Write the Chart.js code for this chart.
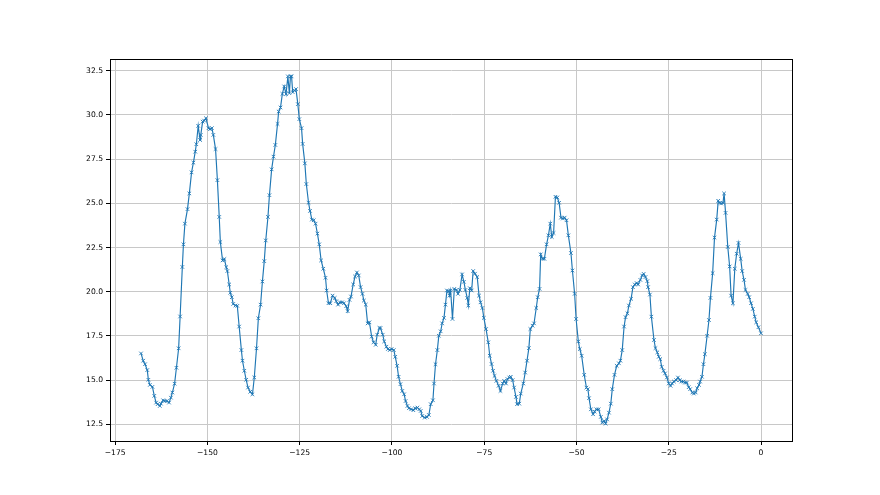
<!DOCTYPE html>
<html>
<head>
<meta charset="utf-8">
<script src="https://cdn.jsdelivr.net/npm/chart.js@4/dist/chart.umd.min.js"></script>
<style>
html,body{margin:0;padding:0;background:#fff;}
#wrap{width:880px;height:495px;position:relative;}
</style>
</head>
<body>
<div id="wrap"><canvas id="c" width="880" height="495"></canvas></div>
<script>
const xValues = [
-168.0,-167.4,-166.9,-166.3,-166.0,-165.6,-164.9,-164.4,-163.9,-163.5,-162.9,-162.6,-162.0,-161.6,-161.0,-160.4,-159.9,-159.5,-158.9,-158.4,
-157.8,-157.4,-156.8,-156.5,-156.1,-155.4,-154.9,-154.3,-153.8,-153.3,-153.0,-152.5,-152.0,-151.8,-151.3,-150.9,-150.4,-149.7,-149.3,-148.8,
-148.4,-147.8,-147.3,-146.8,-146.5,-145.9,-145.4,-144.9,-144.6,-144.1,-143.8,-143.4,-143.0,-142.4,-141.9,-141.4,-140.8,-140.5,-140.0,-139.5,
-139.0,-138.4,-137.8,-137.3,-136.7,-136.2,-135.6,-135.1,-134.6,-134.2,-133.6,-133.2,-132.6,-132.1,-131.6,-131.0,-130.7,-130.2,-129.7,-129.2,
-128.7,-128.2,-127.8,-127.5,-127.2,-126.9,-126.4,-126.0,-125.5,-125.1,-124.5,-124.2,-123.6,-123.2,-122.6,-122.2,-121.7,-121.2,-120.7,-120.2,
-119.7,-119.2,-118.6,-118.0,-117.7,-117.2,-116.7,-116.1,-115.5,-115.1,-114.6,-114.1,-113.5,-113.0,-112.4,-112.0,-111.5,-111.1,-110.5,-110.0,
-109.5,-109.0,-108.5,-108.0,-107.6,-107.1,-106.6,-106.1,-105.5,-105.0,-104.4,-104.0,-103.4,-103.1,-102.5,-102.1,-101.5,-101.1,-100.6,-100.1,
-99.5,-99.1,-98.6,-98.2,-97.7,-97.2,-96.7,-96.3,-95.8,-95.4,-94.8,-94.2,-93.7,-93.1,-92.6,-92.2,-91.8,-91.1,-90.5,-90.0,
-89.5,-88.9,-88.6,-88.2,-87.7,-87.3,-86.8,-86.4,-85.9,-85.5,-85.1,-84.6,-84.4,-84.1,-83.6,-83.1,-82.5,-82.1,-81.6,-81.0,
-80.5,-80.1,-79.6,-79.3,-78.9,-78.4,-78.0,-77.5,-76.9,-76.4,-76.0,-75.5,-75.1,-74.5,-73.9,-73.5,-73.0,-72.6,-72.2,-71.7,
-71.1,-70.6,-70.0,-69.6,-69.1,-68.7,-68.2,-67.8,-67.3,-66.9,-66.4,-66.1,-65.5,-65.1,-64.4,-63.9,-63.4,-62.9,-62.5,-61.9,
-61.5,-60.9,-60.5,-60.0,-59.7,-59.2,-58.7,-58.1,-57.6,-57.1,-56.7,-56.2,-55.7,-55.2,-54.7,-54.2,-53.7,-53.2,-52.7,-52.2,
-51.5,-51.1,-50.5,-50.1,-49.5,-49.1,-48.6,-47.9,-47.3,-46.9,-46.6,-46.1,-45.5,-45.1,-44.6,-44.0,-43.4,-43.0,-42.5,-42.1,
-41.7,-41.2,-40.7,-40.3,-39.7,-39.1,-38.5,-38.1,-37.6,-37.1,-36.7,-36.2,-35.8,-35.2,-34.7,-34.2,-33.7,-33.3,-32.7,-32.2,
-31.8,-31.3,-30.8,-30.6,-30.1,-29.7,-29.0,-28.6,-28.1,-27.7,-27.3,-26.9,-26.4,-26.0,-25.5,-25.0,-24.5,-24.1,-23.6,-23.0,
-22.5,-22.0,-21.6,-21.0,-20.6,-20.1,-19.6,-19.2,-18.6,-18.2,-17.7,-17.3,-16.8,-16.5,-16.0,-15.6,-15.2,-14.6,-14.1,-13.7,
-13.1,-12.6,-12.0,-11.6,-11.2,-10.8,-10.3,-10.0,-9.6,-9.0,-8.5,-8.1,-7.6,-7.1,-6.6,-6.1,-5.5,-5.1,-4.6,-4.2,
-3.6,-3.2,-2.7,-2.2,-1.7,-1.3,-0.7,0.0
];
const yValues = [
16.51,16.10,15.90,15.57,15.02,14.73,14.62,14.11,13.73,13.64,13.54,13.67,13.86,13.82,13.82,13.73,14.01,14.30,14.80,15.70,
16.80,18.60,21.40,22.68,23.85,24.67,25.56,26.75,27.30,27.92,28.34,29.38,28.58,28.87,29.62,29.68,29.81,29.25,29.19,29.25,
28.87,28.07,26.31,24.23,22.81,21.77,21.85,21.39,21.17,20.41,19.94,19.69,19.31,19.22,19.20,18.03,16.70,16.10,15.53,15.02,
14.58,14.34,14.20,15.15,16.80,18.50,19.27,20.58,21.73,22.90,24.23,25.46,26.92,27.64,28.30,29.49,30.19,30.42,31.19,31.61,
31.18,32.18,31.23,32.18,32.18,31.29,31.38,31.46,30.61,29.76,29.25,28.36,27.26,26.09,25.03,24.57,24.08,24.04,23.85,23.29,
22.68,21.77,21.30,20.79,20.07,19.35,19.35,19.78,19.65,19.46,19.27,19.40,19.40,19.35,19.18,18.90,19.54,19.73,20.41,20.86,
21.09,20.92,20.26,19.88,19.50,19.27,18.21,18.27,17.46,17.14,17.00,17.57,17.95,17.95,17.57,17.19,16.89,16.76,16.70,16.76,
16.70,16.32,15.81,15.19,14.77,14.39,14.20,13.82,13.54,13.41,13.35,13.30,13.41,13.45,13.35,13.26,12.97,12.88,12.92,13.03,
13.64,13.86,14.81,15.90,16.70,17.51,17.76,18.21,18.52,19.27,20.07,20.03,19.78,20.07,18.46,20.16,20.10,19.88,20.10,20.98,
20.56,20.10,19.65,19.22,20.20,20.07,21.17,21.02,20.83,19.78,19.40,19.08,18.52,17.89,17.14,16.38,15.91,15.53,15.24,14.96,
14.68,14.39,14.81,14.96,14.81,15.06,15.15,15.19,15.00,14.58,14.05,13.64,13.67,14.24,14.81,15.43,16.10,16.81,17.89,18.08,
18.21,19.08,19.69,20.16,22.11,21.86,21.86,22.68,23.19,23.85,23.10,23.32,25.37,25.33,25.03,24.19,24.14,24.19,24.04,23.19,
22.19,21.20,19.88,18.46,17.19,16.76,16.38,15.30,14.58,14.49,13.98,13.35,13.07,13.22,13.35,13.35,12.92,12.60,12.69,12.54,
12.78,13.16,13.67,14.49,15.30,15.81,15.95,16.10,16.70,18.03,18.56,18.78,19.22,19.60,20.26,20.41,20.49,20.41,20.67,20.92,
21.01,20.83,20.60,20.26,19.84,18.59,17.27,16.81,16.57,16.32,16.19,15.75,15.53,15.38,15.15,14.81,14.68,14.81,14.92,15.00,
15.15,15.00,14.92,14.92,14.86,14.86,14.60,14.49,14.30,14.24,14.30,14.54,14.73,14.92,15.19,15.90,16.47,17.51,18.40,19.65,
21.05,23.06,24.08,25.14,25.03,24.99,25.03,25.56,24.46,22.53,21.43,19.78,19.35,21.30,22.15,22.76,21.86,21.17,20.67,20.10,
19.88,19.69,19.35,19.03,18.59,18.27,17.99,17.65
];
const xTicks = [-175, -150, -125, -100, -75, -50, -25, 0];
const yTicks = [12.5, 15.0, 17.5, 20.0, 22.5, 25.0, 27.5, 30.0, 32.5];

const points = xValues.map((x, i) => ({x: x, y: yValues[i]}));
const xmin = Math.min(...xValues), xmax = Math.max(...xValues);
const ymin = Math.min(...yValues), ymax = Math.max(...yValues);
const xm = (xmax - xmin) * 0.05, ym = (ymax - ymin) * 0.05;

const fontSpec = {family: 'DejaVu Sans', size: 7.6};
const fmt = (v, dec) => {
  const s = Math.abs(v).toFixed(dec);
  return v < 0 ? '\u2212' + s : s;
};

const frame = {
  id: 'frame',
  afterDatasetsDraw(chart) {
    const a = chart.chartArea, ctx = chart.ctx;
    ctx.save();
    ctx.strokeStyle = '#000';
    ctx.lineWidth = 1;
    ctx.strokeRect(Math.round(a.left) + 0.5, Math.round(a.top) + 0.5, Math.round(a.right - a.left), Math.round(a.bottom - a.top));
    ctx.restore();
  }
};

new Chart(document.getElementById('c'), {
  type: 'scatter',
  data: {
    datasets: [{
      data: points,
      showLine: true,
      borderColor: '#1f77b4',
      backgroundColor: '#1f77b4',
      borderWidth: 1.15,
      pointStyle: 'crossRot',
      pointRadius: 2.5,
      pointBorderWidth: 0.9,
      pointBorderColor: '#1f77b4',
      pointHoverRadius: 2.5,
      tension: 0
    }]
  },
  plugins: [frame],
  options: {
    responsive: false,
    animation: false,
    events: [],
    layout: {padding: {top: 59, right: 88, left: 0, bottom: 0}},
    plugins: {legend: {display: false}, tooltip: {enabled: false}},
    scales: {
      x: {
        type: 'linear',
        min: xmin - xm,
        max: xmax + xm,
        afterBuildTicks: s => { s.ticks = xTicks.map(v => ({value: v})); },
        afterFit: s => { s.height = 54; },
        grid: {color: '#c8c8c8', lineWidth: 1, tickColor: '#000', tickLength: 4, drawTicks: true},
        border: {color: '#000', width: 1},
        ticks: {color: '#000', font: fontSpec, padding: 3, maxRotation: 0, autoSkip: false,
          callback: v => fmt(v, 0)}
      },
      y: {
        type: 'linear',
        min: ymin - ym,
        max: ymax + ym,
        afterBuildTicks: s => { s.ticks = yTicks.map(v => ({value: v})); },
        afterFit: s => { s.width = 110; },
        grid: {color: '#c8c8c8', lineWidth: 1, tickColor: '#000', tickLength: 4, drawTicks: true},
        border: {color: '#000', width: 1},
        ticks: {color: '#000', font: fontSpec, padding: 3, autoSkip: false,
          callback: v => fmt(v, 1)}
      }
    }
  }
});
</script>
</body>
</html>
